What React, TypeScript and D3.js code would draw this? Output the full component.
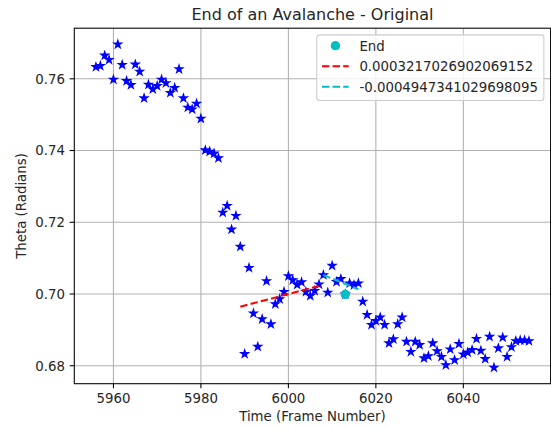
import React from 'react'
import * as d3 from 'd3'

// frame numbers of the tracked particle and its angle
const frames = d3.range(5956, 6056)
const theta = [
	0.7633, 0.7636, 0.7665, 0.7653, 0.7598, 0.7696, 0.7639, 0.7594, 0.7583, 0.7640,
	0.7620, 0.7546, 0.7584, 0.7571, 0.7580, 0.7598, 0.7588, 0.7561, 0.7575, 0.7627,
	0.7546, 0.7520, 0.7515, 0.7531, 0.7489, 0.7401, 0.7397, 0.7392, 0.7379, 0.7227,
	0.7246, 0.7180, 0.7218, 0.7132, 0.6833, 0.7073, 0.6946, 0.6853, 0.6930, 0.7036,
	0.6916, 0.6972, 0.6986, 0.7006, 0.7050, 0.7039, 0.7026, 0.7033, 0.7006, 0.6995,
	0.7009, 0.7027, 0.7053, 0.7004, 0.7079, 0.7034, 0.7042, 0.6999, 0.7030, 0.7025,
	0.7030, 0.6979, 0.6942, 0.6914, 0.6925, 0.6935, 0.6914, 0.6863, 0.6874, 0.6916,
	0.6935, 0.6867, 0.6839, 0.6867, 0.6858, 0.6821, 0.6827, 0.6863, 0.6841, 0.6825,
	0.6802, 0.6846, 0.6816, 0.6861, 0.6832, 0.6837, 0.6844, 0.6875, 0.6842, 0.6819,
	0.6881, 0.6795, 0.6849, 0.6879, 0.6825, 0.6852, 0.6869, 0.6871, 0.6871, 0.6869,
]

// end point and the two fitted lines (endpoints)
const endPoint = { frame: 6013, theta: 0.6999 }
const fitBeforeFrames = [5989, 6007]
const fitBeforeTheta = [0.69646, 0.70225]
const fitAfterFrames = [6008, 6016]
const fitAfterTheta = [0.70529, 0.70133]

const legendLabels = ['End', '0.0003217026902069152', '-0.0004947341029698095']
const xTicks = [5960, 5980, 6000, 6020, 6040]
const yTicks = [0.68, 0.70, 0.72, 0.74, 0.76]

const W = 551
const H = 428
const left = 74.3
const right = 550.6
const top = 28.2
const bottom = 383.7
const FONT = 'DejaVu Sans, sans-serif'
const FS = 13.33

const pad = (ext: number[]) => {
	const d = (ext[1] - ext[0]) * 0.05
	return [ext[0] - d, ext[1] + d]
}

export default function App() {
	const x = d3.scaleLinear().domain(pad(d3.extent(frames) as number[])).range([left, right])
	const y = d3.scaleLinear().domain(pad(d3.extent(theta) as number[])).range([bottom, top])

	const star = d3.symbol(d3.symbolStar, 15 / 0.8908)()
	const line = d3.line<[number, number]>().x(d => x(d[0])).y(d => y(d[1]))
	const fitA = line(fitBeforeFrames.map((f, i) => [f, fitBeforeTheta[i]]))
	const fitB = line(fitAfterFrames.map((f, i) => [f, fitAfterTheta[i]]))

	const legX = 316.7
	const legY = 34.9
	const rows = [45.7, 66.2, 86.7]

	return (
		<svg width={W} height={H} style={{ position: 'absolute', left: 0, top: 0, background: '#fff' }} fontFamily={FONT}>
			<rect width={W} height={H} fill="#fff" />
			{/* grid */}
			{xTicks.map(t => (
				<line key={'gx' + t} x1={x(t)} x2={x(t)} y1={top} y2={bottom} stroke="#b0b0b0" strokeWidth={1.07} />
			))}
			{yTicks.map(t => (
				<line key={'gy' + t} x1={left} x2={right} y1={y(t)} y2={y(t)} stroke="#b0b0b0" strokeWidth={1.07} />
			))}

			{frames.map((f, i) => (
				<path key={f} d={star} transform={`translate(${x(f)},${y(theta[i])})`} fill="#0000ff" stroke="#0000ff" strokeWidth={1.33} strokeLinejoin="miter" />
			))}
			<circle cx={x(endPoint.frame)} cy={y(endPoint.theta)} r={4} fill="#00bfbf" stroke="#00bfbf" strokeWidth={1.33} />
			<path d={fitA} fill="none" stroke="#ff0000" strokeWidth={2} strokeDasharray="7.4,3.2" />
			<path d={fitB} fill="none" stroke="#00bfbf" strokeWidth={2} strokeDasharray="7.4,3.2" />

			{/* spines */}
			<rect x={left} y={top} width={right - left} height={bottom - top} fill="none" stroke="#000" strokeWidth={1.07} />

			{/* ticks */}
			{xTicks.map(t => (
				<g key={'tx' + t}>
					<line x1={x(t)} x2={x(t)} y1={bottom} y2={bottom + 4.67} stroke="#000" strokeWidth={1.07} />
					<text x={x(t)} y={403.2} fontSize={FS} textAnchor="middle" fill="#262626">{t}</text>
				</g>
			))}
			{yTicks.map(t => (
				<g key={'ty' + t}>
					<line x1={left - 4.67} x2={left} y1={y(t)} y2={y(t)} stroke="#000" strokeWidth={1.07} />
					<text x={left - 9.3} y={y(t) + 4.8} fontSize={FS} textAnchor="end" fill="#262626">{d3.format('.2f')(t)}</text>
				</g>
			))}

			<text x={(left + right) / 2} y={421} fontSize={FS} textAnchor="middle" fill="#262626">Time (Frame Number)</text>
			<text transform={`translate(26,${(top + bottom) / 2}) rotate(-90)`} fontSize={FS} textAnchor="middle" fill="#262626">Theta (Radians)</text>
			<text x={(left + right) / 2} y={20.4} fontSize={16} textAnchor="middle" fill="#262626">End of an Avalanche - Original</text>

			{/* legend */}
			<rect x={legX} y={legY} width={543.9 - legX} height={100.5 - legY} rx={3} fill="#fff" fillOpacity={0.8} stroke="#cccccc" strokeWidth={1.07} />
			<circle cx={legX + 18.7} cy={rows[0]} r={4} fill="#00bfbf" stroke="#00bfbf" strokeWidth={1.33} />
			<line x1={legX + 5.3} x2={legX + 32} y1={rows[1]} y2={rows[1]} stroke="#ff0000" strokeWidth={2} strokeDasharray="7.4,3.2" />
			<line x1={legX + 5.3} x2={legX + 32} y1={rows[2]} y2={rows[2]} stroke="#00bfbf" strokeWidth={2} strokeDasharray="7.4,3.2" />
			{legendLabels.map((l, i) => (
				<text key={l} x={legX + 42.7} y={rows[i] + 4.8} fontSize={FS} fill="#262626">{l}</text>
			))}
		</svg>
	)
}
